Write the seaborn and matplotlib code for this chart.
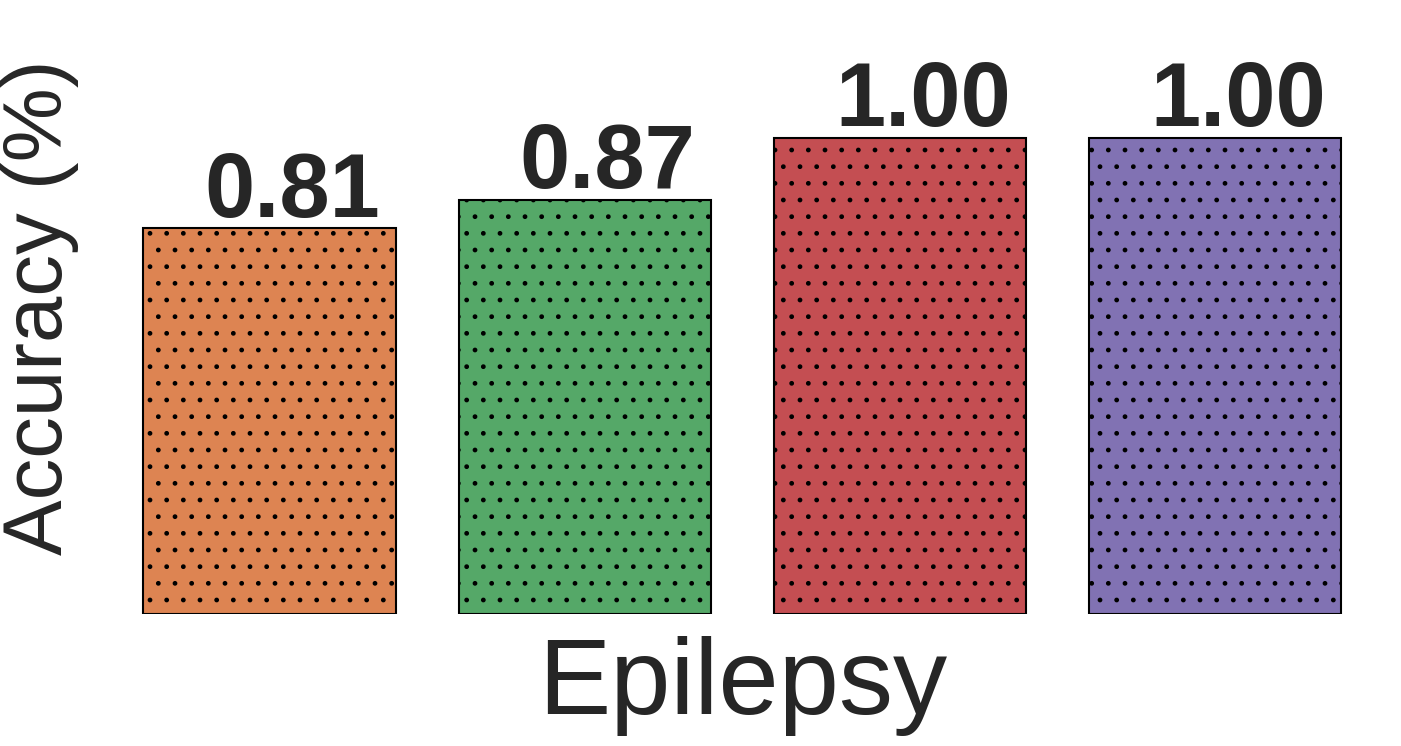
import matplotlib
matplotlib.use('Agg')
import matplotlib.pyplot as plt
import seaborn as sns
import pandas as pd

dataset = "Epilepsy"
models = ["Model 1", "Model 2", "Model 3", "Model 4"]
accuracy = [0.81, 0.87, 1.00, 1.00]
value_labels = ["0.81", "0.87", "1.00", "1.00"]

sns.set_theme(style="white")
plt.rcParams['font.family'] = ['Liberation Sans', 'DejaVu Sans']
plt.rcParams['hatch.color'] = 'black'
plt.rcParams['hatch.linewidth'] = 1.0

colors = sns.color_palette("deep")[1:5]
df = pd.DataFrame({"model": models, "acc": accuracy})

fig = plt.figure(figsize=(14.01, 7.46), dpi=100)
ax = fig.add_axes([0.0799, 0.177, 0.9001, 0.823])
sns.barplot(data=df, x="model", y="acc", hue="model", palette=colors,
            width=0.8, edgecolor="black", linewidth=1.5, saturation=1,
            legend=False, ax=ax)
for p in ax.patches:
    p.set_hatch('.')
ax.set_ylim(0, 1.29)
ax.set_xlim(-0.5, 3.5)
ax.set_xticks([])
ax.set_yticks([])
for s in ax.spines.values():
    s.set_visible(False)
ax.set_xlabel(dataset, fontsize=78, labelpad=16, color='#262626')
ax.set_ylabel("Accuracy (%)", fontsize=60, labelpad=24, color='#262626')
for i, (v, l) in enumerate(zip(accuracy, value_labels)):
    ax.annotate(l, (i, v), xytext=(16.5, 8.5), textcoords='offset points',
                ha='center', va='baseline', fontsize=65, fontweight='bold',
                color='#262626')
fig.savefig('out.png', dpi=100)
